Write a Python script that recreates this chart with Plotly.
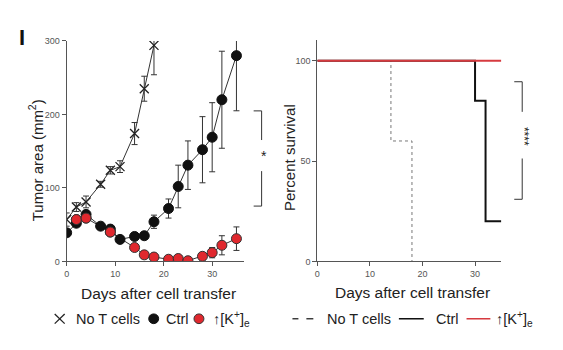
import plotly.graph_objects as go

# ---- Tumor area data ----
notc_days = [0, 2, 4, 7, 9, 11, 14, 16, 18]
notc_area = [57, 74, 81, 105, 124, 129, 174, 235, 294]
notc_err = [9, 6, 8, 4, 5, 8, 15, 17, 40]

ctrl_days = [0, 2, 4, 7, 9, 11, 14, 16, 18, 21, 23, 25, 28, 30, 32, 35]
ctrl_area = [39, 52, 64, 48, 44, 30, 34, 35, 54, 72, 102, 131, 152, 169, 220, 280]
ctrl_err = [3, 4, 5, 4, 3, 3, 3, 3, 9, 13, 29, 33, 45, 47, 66, 75]

k_days = [2, 4, 9, 14, 16, 18, 21, 23, 25, 28, 30, 32, 35]
k_area = [57, 59, 40, 19, 9, 6, 3, 4, 1, 7, 12, 22, 31]
k_err = [3, 3, 2, 2, 2, 2, 1, 1, 1, 5, 7, 13, 16]

# ---- Survival data ----
surv_notc_days = [0, 14, 18]
surv_notc_pct = [100, 60, 0]
surv_ctrl_days = [0, 30, 32, 35]
surv_ctrl_pct = [100, 80, 20, 20]
surv_k_days = [0, 35]
surv_k_pct = [100, 100]

x_ticks = [0, 10, 20, 30]
left_y_ticks = [0, 100, 200, 300]
right_y_ticks = [0, 50, 100]

RED = "#e0282e"
TXT = "#222222"
AX = "#555555"
FONT = "Liberation Sans, Arial, sans-serif"
W, H = 563, 350

fig = go.Figure()

# Left panel
fig.add_trace(go.Scatter(x=k_days, y=k_area, mode="lines+markers",
                         line=dict(color="#333", width=1),
                         marker=dict(symbol="circle", size=10, color=RED, line=dict(color="#333", width=1)),
                         error_y=dict(type="data", array=k_err, color="#333", thickness=1, width=3),
                         xaxis="x", yaxis="y", showlegend=False))
fig.add_trace(go.Scatter(x=ctrl_days, y=ctrl_area, mode="lines+markers",
                         line=dict(color="#333", width=1),
                         marker=dict(symbol="circle", size=10, color="#111", line=dict(color="#111", width=1)),
                         error_y=dict(type="data", array=ctrl_err, color="#333", thickness=1, width=3),
                         xaxis="x", yaxis="y", showlegend=False))
fig.add_trace(go.Scatter(x=notc_days, y=notc_area, mode="lines+markers",
                         line=dict(color="#333", width=1),
                         marker=dict(symbol="x-thin", size=9, color="#222", line=dict(color="#222", width=1.3)),
                         error_y=dict(type="data", array=notc_err, color="#333", thickness=1, width=3),
                         xaxis="x", yaxis="y", showlegend=False))
# Early red points drawn on top of the black ones
fig.add_trace(go.Scatter(x=k_days[:3], y=k_area[:3], mode="markers",
                         marker=dict(symbol="circle", size=10, color=RED, line=dict(color="#333", width=1)),
                         xaxis="x", yaxis="y", showlegend=False))

# Right panel
fig.add_trace(go.Scatter(x=surv_notc_days, y=surv_notc_pct, mode="lines", line_shape="hv",
                         line=dict(color="#777", width=1, dash="dot"),
                         xaxis="x2", yaxis="y2", showlegend=False))
fig.add_trace(go.Scatter(x=surv_ctrl_days, y=surv_ctrl_pct, mode="lines", line_shape="hv",
                         line=dict(color="#111", width=2),
                         xaxis="x2", yaxis="y2", showlegend=False))
fig.add_trace(go.Scatter(x=surv_k_days, y=surv_k_pct, mode="lines",
                         line=dict(color="#d63a3f", width=2),
                         xaxis="x2", yaxis="y2", showlegend=False))

tickfont = dict(family=FONT, size=9, color="#555")
common = dict(showgrid=False, zeroline=False, showline=True, linecolor=AX, linewidth=1,
              ticks="outside", ticklen=4, tickcolor=AX, tickfont=tickfont)

fig.update_layout(
    width=W, height=H, margin=dict(l=0, r=0, t=0, b=0),
    plot_bgcolor="white", paper_bgcolor="white",
    xaxis=dict(domain=[64/W, 242/W], range=[0, 36.5], tickvals=x_ticks, anchor="y", **common),
    yaxis=dict(domain=[(H-264)/H, (H-37)/H], range=[0, 300], tickvals=left_y_ticks, anchor="x", **common),
    xaxis2=dict(domain=[316/W, 501/W], range=[0, 35], tickvals=x_ticks, anchor="y2", **common),
    yaxis2=dict(domain=[(H-264)/H, (H-36)/H], range=[0, 110.3], tickvals=right_y_ticks, anchor="x2", **common),
)

def px(x):
    return x / W

def py(y):
    return 1 - y / H

def line(x0, y0, x1, y1, color="#333", width=1):
    fig.add_shape(type="line", xref="paper", yref="paper", x0=px(x0), y0=py(y0), x1=px(x1), y1=py(y1),
                  line=dict(color=color, width=width))

def circle(cx, cy, r, fill, outline):
    fig.add_shape(type="circle", xref="paper", yref="paper",
                  x0=px(cx - r), x1=px(cx + r), y0=py(cy + r), y1=py(cy - r),
                  fillcolor=fill, line=dict(color=outline, width=1))

# Significance brackets
line(252, 109, 260, 109); line(260, 109, 260, 139)
line(260, 171, 260, 207); line(252, 207, 260, 207)
line(514, 79, 522, 79); line(522, 79, 522, 110)
line(522, 158, 522, 200); line(514, 200, 522, 200)

# Left legend markers
line(52, 318, 62, 328, color="#222", width=1.3)
line(52, 328, 62, 318, color="#222", width=1.3)
circle(151.5, 323, 5, "#111", "#111")
circle(197, 323, 5, RED, "#333")

# Right legend lines
line(291, 323, 297, 323, color="#222", width=1.3)
line(305, 323, 312, 323, color="#222", width=1.3)
line(398, 323, 423, 323, color="#111", width=1.5)
line(466, 323, 490, 323, color="#d63a3f", width=1.5)

def txt(x, y, s, size=14.5, xanchor="left", angle=0, bold=False, color=TXT):
    fig.add_annotation(xref="paper", yref="paper", x=px(x), y=py(y), text=(f"<b>{s}</b>" if bold else s),
                       showarrow=False, xanchor=xanchor, yanchor="middle", textangle=angle,
                       font=dict(family=FONT, size=size, color=color))

# Axis titles
txt(156, 297, "Days after cell transfer", size=15.5, xanchor="center")
txt(412, 296, "Days after cell transfer", size=15.5, xanchor="center")
txt(33, 160, "Tumor area (mm<sup>2</sup>)", size=15, xanchor="center", angle=-90)
txt(288, 157, "Percent survival", size=15, xanchor="center", angle=-90)

txt(262, 155, "*", size=14, xanchor="center")
txt(524, 135, "****", size=12, xanchor="center", angle=90)
txt(19, 33, "I", size=22, xanchor="center", bold=True, color="#111")

# Legends
txt(71, 323, "No T cells")
txt(162, 323, "Ctrl")
txt(209, 323, "↑[K<sup>+</sup>]<sub>e</sub>")
txt(324, 323, "No T cells")
txt(433, 323, "Ctrl")
txt(494, 323, "↑[K<sup>+</sup>]<sub>e</sub>")

fig.write_html("out.html")
